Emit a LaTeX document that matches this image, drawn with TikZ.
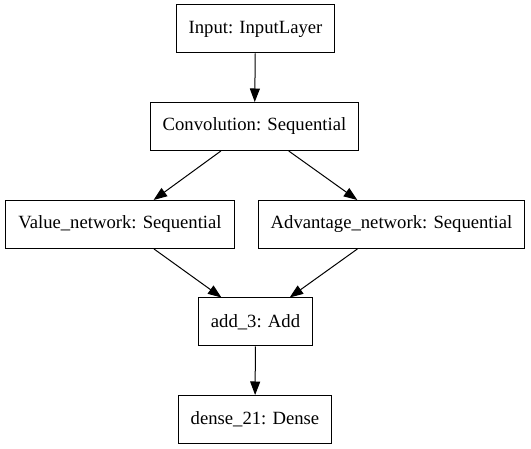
\documentclass[tikz,border=0pt]{standalone}
\usepackage{fontspec}
\setmainfont{Liberation Serif}
\usepackage{tikz}
\usetikzlibrary{arrows.meta}
\tikzstyle{layerbox} = [draw=black, fill=white, line width=1pt,
rectangle, minimum height=48pt, inner xsep=12.5pt,
font=\fontsize{18.67}{22}\selectfont]
\tikzstyle{flowarrow} = [draw=black, line width=1pt,
-{Triangle[length=13.5pt,width=10pt]}]

\begin{document}
\begin{tikzpicture}[x=1pt, y=-1pt]
        \useasboundingbox (0,0) rectangle (531,449);
        \node [layerbox] (input) at (255.5,29) {Input: InputLayer};
        \node [layerbox] (conv) at (254.5,126.5) {Convolution: Sequential};
        \node [layerbox] (value) at (120,224.5) {Value\_network: Sequential};
        \node [layerbox] (adv) at (391.5,224.5) {Advantage\_network: Sequential};
        \node [layerbox] (add) at (255.5,322) {add\_3: Add};
        \node [layerbox] (dense) at (255,419.5) {dense\_21: Dense};
        \draw [flowarrow] (input) -- (conv);
        \draw [flowarrow] (conv) -- (value);
        \draw [flowarrow] (conv) -- (adv);
        \draw [flowarrow] (value) -- (add);
        \draw [flowarrow] (adv) -- (add);
        \draw [flowarrow] (add) -- (dense);
    \end{tikzpicture}
\end{document}
